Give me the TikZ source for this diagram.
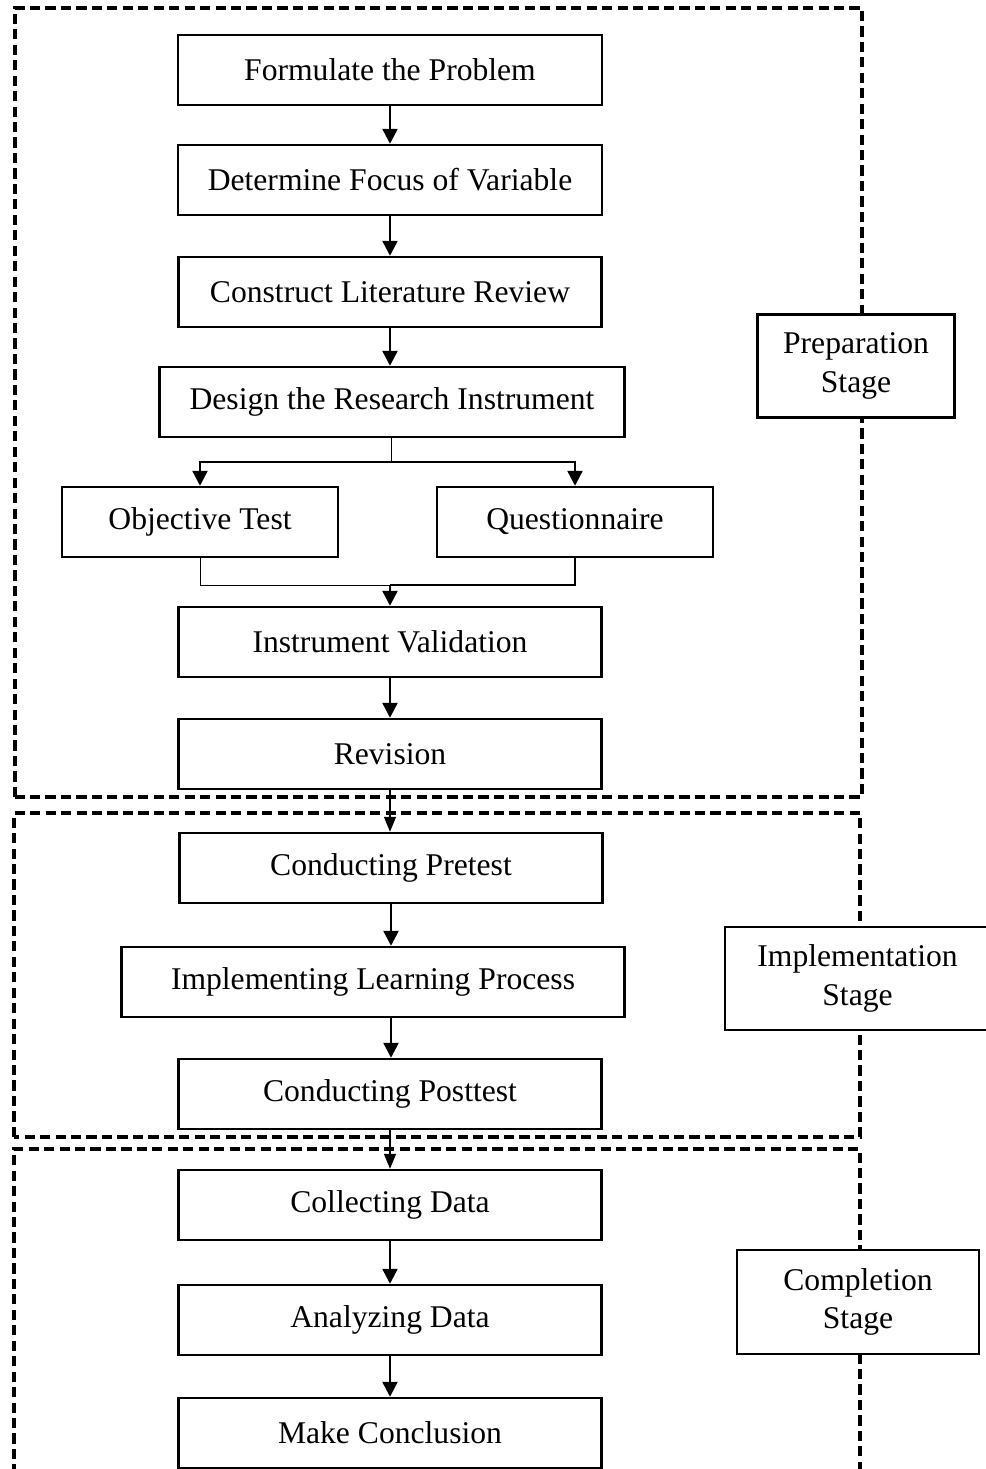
\documentclass[tikz,border=0pt]{standalone}
\usepackage{fontspec}
\setmainfont{Liberation Serif}
\usetikzlibrary{arrows.meta}
\begin{document}
\begin{tikzpicture}[x=0.02cm,y=-0.02cm,
  box/.style={draw,line width=1.4pt,fill=white,minimum height=1.4cm,inner sep=0pt,font=\fontsize{18}{22}\selectfont},
  stagebox/.style={draw,line width=1.4pt,fill=white,align=center,inner sep=0pt,font=\fontsize{18}{22}\selectfont},
  frame/.style={line width=2.8pt,dash pattern=on 5.8pt off 3pt},
  arr/.style={line width=1.4pt,-{Triangle[length=0.3cm,width=0.3cm]}},
  thinarr/.style={line width=0.8pt,-{Triangle[length=0.3cm,width=0.24cm]}},
  thinline/.style={line width=0.5pt},
  thickline/.style={line width=1.4pt}]
\useasboundingbox (0,0) rectangle (985,1469);
% stage frames
\draw[frame] (15,797) -- (15,8) -- (862,8) -- (862,797) -- cycle;
\draw[frame] (14,1137) -- (14,813) -- (860,813) -- (860,1137) -- cycle;
\draw[frame] (14,1490) -- (14,1149) -- (860,1149) -- (860,1490);
% process boxes
\node[box,minimum width=8.48cm] (form) at (390,70) {Formulate the Problem};
\node[box,minimum width=8.48cm] (focus) at (390,180) {Determine Focus of Variable};
\node[box,minimum width=8.46cm] (lit) at (390,292) {Construct Literature Review};
\node[box,minimum width=9.3cm] (design) at (392,402) {Design the Research Instrument};
\node[box,minimum width=5.52cm] (obj) at (200,522) {Objective Test};
\node[box,minimum width=5.52cm] (quest) at (575,522) {Questionnaire};
\node[box,minimum width=8.46cm] (val) at (390,642) {Instrument Validation};
\node[box,minimum width=8.46cm] (rev) at (390,754) {Revision};
\node[box,minimum width=8.46cm] (pre) at (391,868) {Conducting Pretest};
\node[box,minimum width=10.06cm] (impl) at (373,982) {Implementing Learning Process};
\node[box,minimum width=8.46cm] (post) at (390,1094) {Conducting Posttest};
\node[box,minimum width=8.46cm] (coll) at (390,1205) {Collecting Data};
\node[box,minimum width=8.46cm] (ana) at (390,1320) {Analyzing Data};
\node[box,minimum width=8.46cm] (conc) at (390,1433) {Make Conclusion};
% stage labels
\node[stagebox,minimum width=3.94cm,minimum height=2.06cm] (prep) at (856,366) {Preparation\\Stage};
\node[stagebox,minimum width=5.3cm,minimum height=2.06cm] (implst) at (857.5,978.5) {Implementation\\Stage};
\node[stagebox,minimum width=4.84cm,minimum height=2.08cm] (compl) at (858,1302) {Completion\\Stage};
% connectors
\draw[arr] (form.south) -- (form.south |- focus.north);
\draw[arr] (focus.south) -- (focus.south |- lit.north);
\draw[arr] (lit.south) -- (lit.south |- design.north);
\coordinate (sp) at (391,462);
\draw[thinline] (sp |- design.south) -- (sp);
\draw[arr] (sp) -| (obj.north);
\draw[arr] (sp) -| (quest.north);
\coordinate (mg) at (390,585);
\draw[thinline] (obj.south) |- (mg);
\draw[thickline] (quest.south) |- (mg);
\draw[arr] (mg) -- (mg |- val.north);
\draw[arr] (val.south) -- (val.south |- rev.north);
\draw[thinarr] (rev.south) -- (rev.south |- pre.north);
\draw[arr] (pre.south) -- (pre.south |- impl.north);
\draw[arr] (pre.south |- impl.south) -- (pre.south |- post.north);
\draw[thinarr] (post.south) -- (post.south |- coll.north);
\draw[arr] (coll.south) -- (coll.south |- ana.north);
\draw[arr] (ana.south) -- (ana.south |- conc.north);
\end{tikzpicture}
\end{document}
